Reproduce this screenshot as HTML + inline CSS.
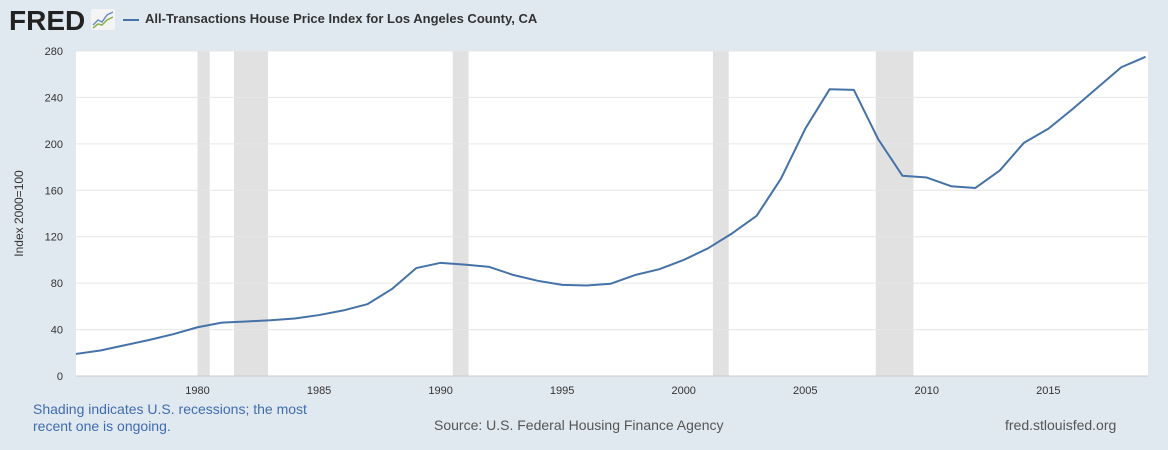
<!DOCTYPE html>
<html><head><meta charset="utf-8"><style>
body{margin:0;width:1168px;height:450px;background:#e1e9f0;font-family:"Liberation Sans",sans-serif;overflow:hidden;position:relative}
.t{position:absolute;white-space:nowrap}
</style></head><body>
<div class="t" style="left:9px;top:5px;font-size:28px;font-weight:bold;color:#222;letter-spacing:0px">FRED</div>
<svg style="position:absolute;left:91px;top:9px" width="24" height="21"><rect width="24" height="21" rx="2" fill="#f4f4f4"/><polyline points="2,16 7,11 11,13 16,6 22,3" fill="none" stroke="#6a8fc7" stroke-width="1.5"/><polyline points="2,19 7,15 11,16 16,11 22,8" fill="none" stroke="#8ab04a" stroke-width="1.5"/></svg>
<div style="position:absolute;left:123px;top:19px;width:16px;height:2px;background:#4572a7"></div>
<div class="t" style="left:145px;top:11px;font-size:13px;font-weight:bold;color:#333">All-Transactions House Price Index for Los Angeles County, CA</div>
<svg id="c" style="position:absolute;left:0;top:0" width="1168" height="450"></svg>
<div class="t" style="left:33px;top:401px;font-size:14px;color:#3f6cb0;line-height:17px">Shading indicates U.S. recessions; the most<br>recent one is ongoing.</div>
<div class="t" style="left:434px;top:417px;font-size:14px;color:#555">Source: U.S. Federal Housing Finance Agency</div>
<div class="t" style="left:1005px;top:417px;font-size:14px;color:#555">fred.stlouisfed.org</div>
<script>
const years=[1975,1976,1977,1978,1979,1980,1981,1982,1983,1984,1985,1986,1987,1988,1989,1990,1991,1992,1993,1994,1995,1996,1997,1998,1999,2000,2001,2002,2003,2004,2005,2006,2007,2008,2009,2010,2011,2012,2013,2014,2015,2016,2017,2018,2019];
const values=[19,22,26.5,31,36,42,46,47,48,49.5,52.5,56.5,62,75,93,97.5,96,94,87,82,78.5,78,79.5,87,92,100,110,123,138,170,213,247,246.5,204,172.5,171,163.5,162,177,201,213,230,248,266,275];
const recStart=[1980.0,1981.5,1990.5,2001.2,2007.9];
const recEnd=[1980.5,1982.9,1991.15,2001.85,2009.45];
const yTicks=[0,40,80,120,160,200,240,280];
const xTicks=[1980,1985,1990,1995,2000,2005,2010,2015];
const L=76,R=1148,T=51,B=376,x0=1975,x1=2019.1;
const X=v=>L+(v-x0)/(x1-x0)*(R-L), Y=v=>B-v/280*(B-T);
const s=document.getElementById('c'),NS='http://www.w3.org/2000/svg';
function mk(t,a,p){const e=document.createElementNS(NS,t);for(const k in a)e.setAttribute(k,a[k]);(p||s).appendChild(e);return e;}
const bg=mk('rect',{x:L,y:T,width:R-L,height:B-T,fill:'#fff'});


recStart.forEach((a,i)=>{const r=mk('rect',{x:X(a),y:T,width:X(recEnd[i])-X(a),height:B-T,fill:'#e1e1e1'});

});
yTicks.forEach(v=>{const g=mk('line',{x1:L,x2:R,y1:Y(v),y2:Y(v),stroke:v?'#e6e6e6':'#ccc','stroke-width':1});


const t=mk('text',{x:L-13,y:Y(v)+4,'text-anchor':'end','font-size':11,fill:'#333'});t.textContent=v;

});
xTicks.forEach(v=>{const t=mk('text',{x:X(v),y:B+18,'text-anchor':'middle','font-size':11,fill:'#333'});t.textContent=v;

});
const yt=mk('text',{x:0,y:0,transform:`translate(23,${(T+B)/2}) rotate(-90)`,'text-anchor':'middle','font-size':12,fill:'#333'});yt.textContent='Index 2000=100';


const ln=mk('polyline',{points:years.map((y,i)=>X(y)+','+Y(values[i])).join(' '),fill:'none',stroke:'#4572a7','stroke-width':2,'stroke-linejoin':'round'});


</script>
</body></html>
